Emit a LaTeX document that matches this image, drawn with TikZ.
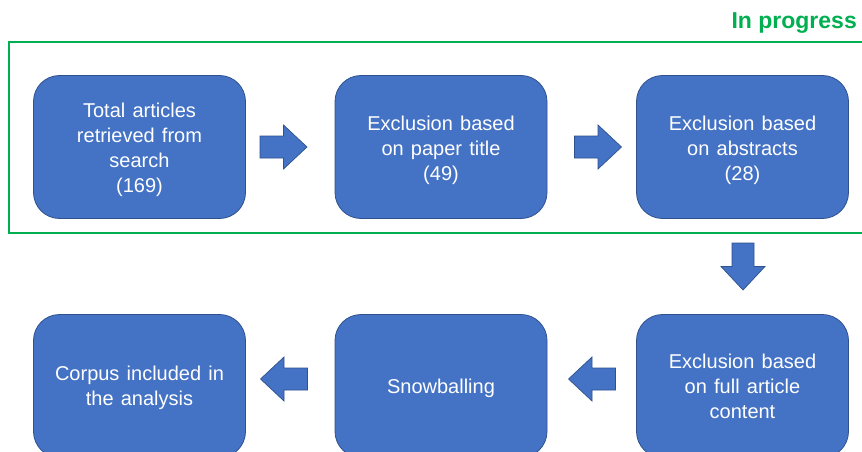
\documentclass[tikz,border=0pt]{standalone}
\usepackage{fontspec}
\setmainfont{Liberation Sans}
\usetikzlibrary{calc}
\definecolor{boxblue}{HTML}{4472C4}
\definecolor{boxedge}{HTML}{2F528F}
\definecolor{frameg}{HTML}{00B050}
\newcommand\widewords{\spaceskip=0.36em\relax}
\begin{document}
\begin{tikzpicture}[x=1pt,y=-1pt,
  stage/.style={draw=boxedge, line width=0.8pt, fill=boxblue, rounded corners=26pt,
    minimum width=212pt, minimum height=143pt, inner sep=0pt},
  stagetext/.style={inner sep=0pt, text=white, align=center,
    font=\fontsize{20}{25}\selectfont, execute at begin node=\widewords},
  flowarrow/.style={draw=boxedge, line width=0.7pt, fill=boxblue, line join=miter},
  rarrow/.pic={\draw[flowarrow] (-23.5,-11) -- (0,-11) -- (0,-22) -- (23.5,0)
      -- (0,22) -- (0,11) -- (-23.5,11) -- cycle;}
]
\clip (0,0) rectangle (862,452);
\fill[white] (0,0) rectangle (862,452);

% frame around the stages that are still running
\draw[frameg, line width=2.8pt] (9,42) rectangle (880,233);
\node[anchor=base east, text=frameg, font=\fontsize{23}{28}\selectfont\bfseries,
  inner sep=0pt] (prog) at (857,29) {In progress};

% stages
\node[stage] (total) at (139.5,147) {};
\node[stage] (title) at (441,147) {};
\node[stage] (abstr) at (742.5,147) {};
\node[stage] (full)  at (742.5,386) {};
\node[stage] (snow)  at (441,386) {};
\node[stage] (corpus) at (139.5,386) {};

% their labels
\node[stagetext] (totalT) at ($(total)+(0,3)$) {Total articles\\retrieved from\\search\\(169)};
\node[stagetext] (titleT) at ($(title)+(0,3)$) {Exclusion based\\on paper title\\(49)};
\node[stagetext] (abstrT) at ($(abstr)+(0,3)$) {Exclusion based\\on abstracts\\(28)};
\node[stagetext] (fullT)  at ($(full)+(0,0)$) {Exclusion based\\on full article\\content};
\node[stagetext] (snowT)  at ($(snow)+(0,2)$) {Snowballing};
\node[stagetext] (corpusT) at ($(corpus)+(0,2)$) {Corpus included in\\the analysis};

% block arrows between the stages
\coordinate (a1) at (283.5,147);
\coordinate (a2) at (598,147);
\coordinate (a3) at (743,266.5);
\coordinate (a4) at (592,379);
\coordinate (a5) at (284,379);
\pic at (a1) {rarrow};
\pic at (a2) {rarrow};
\pic[rotate=-90] at (a3) {rarrow};
\pic[rotate=180] at (a4) {rarrow};
\pic[rotate=180] at (a5) {rarrow};
\end{tikzpicture}
\end{document}
